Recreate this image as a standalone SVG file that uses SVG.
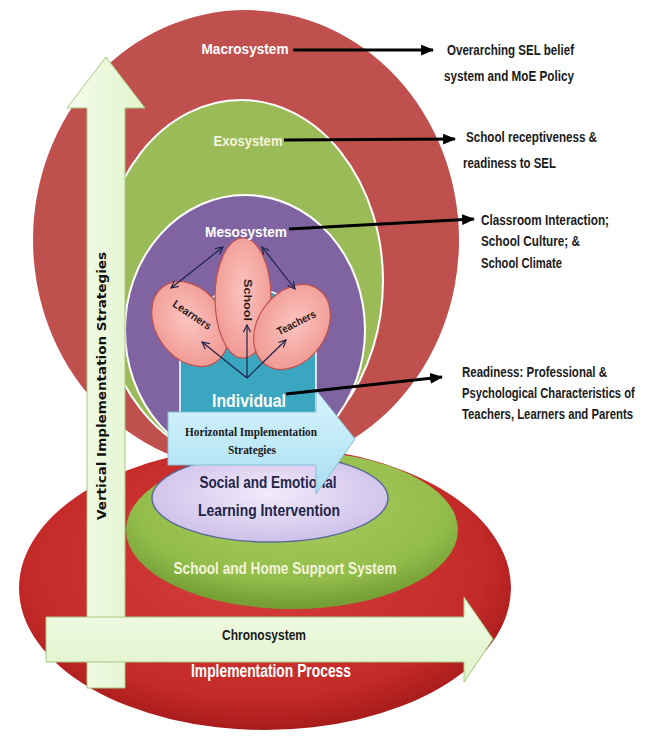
<svg xmlns="http://www.w3.org/2000/svg" width="651" height="736" viewBox="0 0 651 736">
<defs>
  <radialGradient id="petal" cx="50%" cy="45%" r="60%">
    <stop offset="0" stop-color="#fbc4bf"/>
    <stop offset="1" stop-color="#f09690"/>
  </radialGradient>
  <radialGradient id="lav" cx="50%" cy="45%" r="60%">
    <stop offset="0" stop-color="#f1ebfb"/>
    <stop offset="1" stop-color="#cbbde8"/>
  </radialGradient>
  <linearGradient id="blue" x1="0" y1="0" x2="0" y2="1">
    <stop offset="0" stop-color="#d9f4fd"/>
    <stop offset="1" stop-color="#a8dff2"/>
  </linearGradient>
  <radialGradient id="redB" cx="48%" cy="42%" r="58%">
    <stop offset="0" stop-color="#d5403d"/>
    <stop offset="0.8" stop-color="#c42a28"/>
    <stop offset="1" stop-color="#a81c1c"/>
  </radialGradient>
  <radialGradient id="greenB" cx="50%" cy="35%" r="62%">
    <stop offset="0" stop-color="#a9cd5f"/>
    <stop offset="0.75" stop-color="#93bd4b"/>
    <stop offset="1" stop-color="#76a036"/>
  </radialGradient>
  <linearGradient id="vArrow" x1="0" y1="0" x2="1" y2="0">
    <stop offset="0" stop-color="#f5fdec"/>
    <stop offset="1" stop-color="#e1f3cb"/>
  </linearGradient>
  <linearGradient id="hArrow" x1="0" y1="0" x2="0" y2="1">
    <stop offset="0" stop-color="#f3fce8"/>
    <stop offset="1" stop-color="#dff2c8"/>
  </linearGradient>
  <marker id="blk" viewBox="0 0 12 10" refX="11" refY="5" markerWidth="13" markerHeight="11" markerUnits="userSpaceOnUse" orient="auto">
    <path d="M0,0 L12,5 L0,10 Z" fill="#000"/>
  </marker>
  <marker id="nv" viewBox="0 0 10 10" refX="9" refY="5" markerWidth="9" markerHeight="9" markerUnits="userSpaceOnUse" orient="auto-start-reverse">
    <path d="M1,1 L9,5 L1,9" fill="none" stroke="#1c2347" stroke-width="1.3"/>
  </marker>
</defs>
<style>
  .lbl { font-family: "Liberation Sans Narrow", "Liberation Sans", Arial, sans-serif; font-weight: bold; text-anchor: middle; }
  .note { font-family: "Liberation Sans Narrow", "Liberation Sans", Arial, sans-serif; font-weight: bold; font-size: 14px; fill: #1a1a1a; }
  .note2 { font-family: "Liberation Sans", Arial, sans-serif; font-weight: bold; font-size: 14px; fill: #1a1a1a; }
  .petal { fill: url(#petal); stroke: #c0504d; stroke-width: 1.2; }
  .ptxt { font-family: "Liberation Sans", Arial, sans-serif; font-weight: bold; font-size: 11px; fill: #2a1a1a; text-anchor: middle; }
  .conn { stroke: #000; stroke-width: 3; fill: none; marker-end: url(#blk); }
  .meso { stroke: #1c2347; stroke-width: 1.2; fill: none; }
</style>
<rect width="651" height="736" fill="#ffffff"/>

<g id="macrosystem">
  <ellipse cx="246" cy="240" rx="213" ry="230" fill="#c0504d"/>
</g>
<g id="exosystem">
  <ellipse cx="241" cy="281" rx="142" ry="181" fill="#9bbb59" stroke="#ffffff" stroke-width="2"/>
</g>
<g id="mesosystem">
  <ellipse cx="245" cy="330" rx="120" ry="135" fill="#8064a2" stroke="#ffffff" stroke-width="2"/>
</g>
<g id="individual">
  <path d="M180,415 L180,352 A68,64 0 0 1 316,352 L316,415 Z" fill="#3ba6bf" stroke="#ffffff" stroke-width="1.5"/>
</g>
<g id="learners">
  <ellipse cx="0" cy="0" rx="34" ry="46" transform="translate(190,324) rotate(-35)" class="petal"/>
  <text class="ptxt" transform="translate(190,318) rotate(34)" textLength="44" lengthAdjust="spacingAndGlyphs">Learners</text>
</g>
<g id="school">
  <ellipse cx="243" cy="298" rx="28" ry="60" class="petal"/>
  <text class="ptxt" transform="translate(244,300) rotate(90)" textLength="42" lengthAdjust="spacingAndGlyphs">School</text>
</g>
<g id="teachers">
  <ellipse cx="0" cy="0" rx="34" ry="46" transform="translate(292,327) rotate(35)" class="petal"/>
  <text class="ptxt" transform="translate(298,326) rotate(-27)" textLength="42" lengthAdjust="spacingAndGlyphs">Teachers</text>
</g>

<g id="school-home-base">
  <ellipse cx="265" cy="588" rx="246" ry="142" fill="url(#redB)"/>
</g>
<g id="support-system">
  <ellipse cx="292" cy="530" rx="166" ry="79" fill="url(#greenB)"/>
</g>
<g id="sel-intervention">
  <ellipse cx="270" cy="498" rx="118" ry="44" fill="url(#lav)" stroke="#5b6a98" stroke-width="1.5"/>
  <text class="lbl" x="268" y="488" font-size="17" fill="#1f2548" font-weight="normal" textLength="137" lengthAdjust="spacingAndGlyphs">Social and Emotional</text>
  <text class="lbl" x="269" y="516" font-size="17" fill="#1f2548" font-weight="normal" textLength="142" lengthAdjust="spacingAndGlyphs">Learning Intervention</text>
</g>
<g id="horizontal-strategies">
  <path d="M168,412 L316,412 L316,390 L355,439 L316,494 L316,465 L168,465 Z" fill="url(#blue)" stroke="#86bfd3" stroke-width="1"/>
  <text x="251" y="436" font-family="'Liberation Serif', 'Times New Roman', serif" font-weight="bold" font-size="12" fill="#1a1a1a" text-anchor="middle" textLength="132" lengthAdjust="spacingAndGlyphs">Horizontal Implementation</text>
  <text x="252" y="454" font-family="'Liberation Serif', 'Times New Roman', serif" font-weight="bold" font-size="12" fill="#1a1a1a" text-anchor="middle" textLength="48" lengthAdjust="spacingAndGlyphs">Strategies</text>
</g>
<g id="vertical-strategies">
  <path d="M87,688 L87,108 L67,108 L106,57 L145,108 L125,108 L125,688 Z" fill="url(#vArrow)" stroke="#a6c882" stroke-width="1"/>
  <text transform="translate(106,386) rotate(-90)" font-family="'DejaVu Sans', Verdana, sans-serif" font-weight="bold" font-size="13" fill="#111" text-anchor="middle" textLength="268" lengthAdjust="spacingAndGlyphs">Vertical Implementation Strategies</text>
</g>
<g id="chronosystem">
  <path d="M46,617 L464,617 L464,597 L493,639 L464,682 L464,662 L46,662 Z" fill="url(#hArrow)" stroke="#a6c882" stroke-width="1"/>
  <text class="lbl" x="264" y="640" font-size="15" fill="#1a1a1a" font-weight="normal" textLength="84" lengthAdjust="spacingAndGlyphs">Chronosystem</text>
</g>

<g id="labels">
  <text class="lbl" x="245" y="54" font-size="15" fill="#ffffff" textLength="87" lengthAdjust="spacingAndGlyphs">Macrosystem</text>
  <text class="lbl" x="248" y="146" font-size="15" fill="#f4f4dc" textLength="69" lengthAdjust="spacingAndGlyphs">Exosystem</text>
  <text class="lbl" x="246" y="237" font-size="15" fill="#ffffff" textLength="82" lengthAdjust="spacingAndGlyphs">Mesosystem</text>
  <text class="lbl" x="249" y="407" font-size="19" fill="#ffffff" textLength="74" lengthAdjust="spacingAndGlyphs">Individual</text>
  <text class="lbl" x="285" y="574" font-size="17" fill="#f4f4dc" textLength="223" lengthAdjust="spacingAndGlyphs">School and Home Support System</text>
  <text class="lbl" x="271" y="677" font-size="18" fill="#ffffff" textLength="160" lengthAdjust="spacingAndGlyphs">Implementation Process</text>
</g>

<g id="connectors">
  <line class="meso" x1="223" y1="247" x2="171" y2="288" marker-start="url(#nv)" marker-end="url(#nv)"/>
  <line class="meso" x1="262" y1="247" x2="295" y2="289" marker-start="url(#nv)" marker-end="url(#nv)"/>
  <line class="meso" x1="247" y1="378" x2="202" y2="342" marker-end="url(#nv)"/>
  <line class="meso" x1="247" y1="378" x2="247" y2="325" marker-end="url(#nv)"/>
  <line class="meso" x1="247" y1="378" x2="286" y2="340" marker-end="url(#nv)"/>
  <line class="conn" x1="293" y1="50" x2="433" y2="50"/>
  <line class="conn" x1="284" y1="140" x2="455" y2="139"/>
  <line class="conn" x1="289" y1="229" x2="474" y2="219"/>
  <line class="conn" x1="286" y1="394" x2="442" y2="377"/>
</g>

<g id="notes">
  <text class="note" x="447" y="55" textLength="127" lengthAdjust="spacingAndGlyphs">Overarching SEL belief</text>
  <text class="note" x="444" y="81" textLength="130" lengthAdjust="spacingAndGlyphs">system and MoE Policy</text>
  <text class="note" x="466" y="142" textLength="131" lengthAdjust="spacingAndGlyphs">School receptiveness &amp;</text>
  <text class="note" x="463" y="168" textLength="93" lengthAdjust="spacingAndGlyphs">readiness to SEL</text>
  <text class="note" x="481" y="225" textLength="128" lengthAdjust="spacingAndGlyphs">Classroom Interaction;</text>
  <text class="note" x="481" y="246" textLength="99" lengthAdjust="spacingAndGlyphs">School Culture; &amp;</text>
  <text class="note" x="481" y="268" textLength="81" lengthAdjust="spacingAndGlyphs">School Climate</text>
  <text class="note" x="462" y="377" textLength="145" lengthAdjust="spacingAndGlyphs">Readiness: Professional &amp;</text>
  <text class="note2" transform="translate(462,398) scale(0.8,1)">Psychological Characteristics of</text>
  <text class="note2" transform="translate(462,419) scale(0.81,1)">Teachers, Learners and Parents</text>
</g>
</svg>
